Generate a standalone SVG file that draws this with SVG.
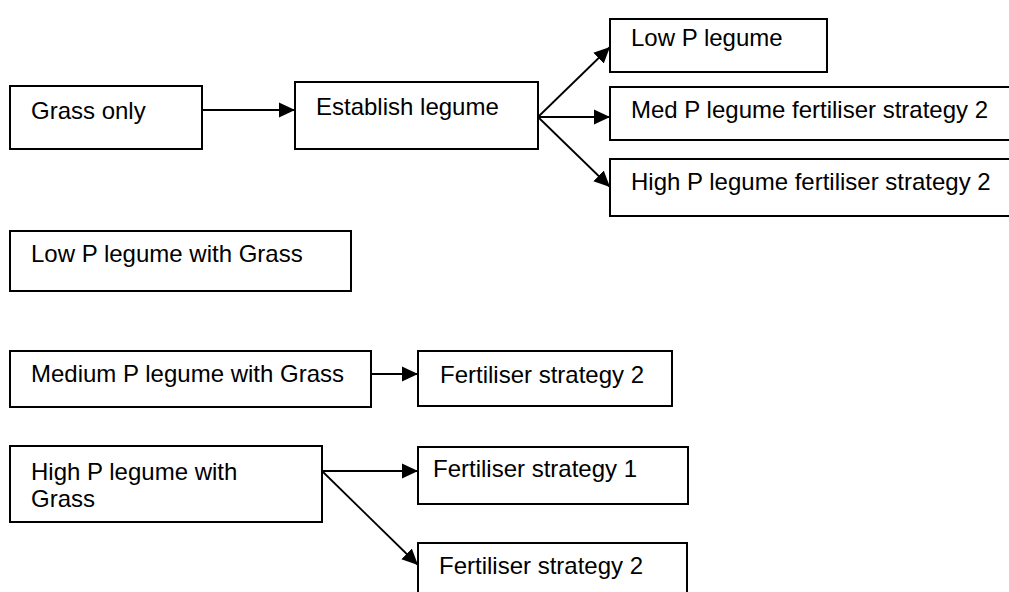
<svg xmlns="http://www.w3.org/2000/svg" width="1009" height="592" viewBox="0 0 1009 592">
<style>
.box{fill:#fff;stroke:#000;stroke-width:2}
.t{font-family:"Liberation Sans",Arial,sans-serif;font-size:24px;fill:#000}
.c{fill:none;stroke:#000;stroke-width:1.8}
</style>
<defs>
<marker id="ah" markerUnits="userSpaceOnUse" markerWidth="16" markerHeight="16" viewBox="0 0 15 14" refX="15" refY="7" orient="auto">
<path d="M0,0 L15,7 L0,14 z" fill="#000"/>
</marker>
</defs>
<rect width="1009" height="592" fill="#fff"/>
<g id="connectors">
<line class="c" x1="202" y1="110" x2="295" y2="110" marker-end="url(#ah)"/>
<line class="c" x1="538" y1="117" x2="610" y2="47" marker-end="url(#ah)"/>
<line class="c" x1="538" y1="117" x2="610" y2="117" marker-end="url(#ah)"/>
<line class="c" x1="538" y1="117" x2="610" y2="187" marker-end="url(#ah)"/>
<line class="c" x1="371" y1="374" x2="418" y2="374" marker-end="url(#ah)"/>
<line class="c" x1="322" y1="471" x2="418" y2="471" marker-end="url(#ah)"/>
<line class="c" x1="322" y1="471" x2="418" y2="565" marker-end="url(#ah)"/>
</g>
<g id="grass-only"><rect class="box" x="10" y="86" width="192" height="63"/><text class="t" x="31" y="119">Grass only</text></g>
<g id="establish-legume"><rect class="box" x="295" y="82" width="243" height="67"/><text class="t" x="316" y="115">Establish legume</text></g>
<g id="low-p-legume"><rect class="box" x="610" y="19" width="217" height="53"/><text class="t" x="631" y="46">Low P legume</text></g>
<g id="med-p-legume"><rect class="box" x="610" y="87" width="410" height="53"/><text class="t" x="631" y="118">Med P legume fertiliser strategy 2</text></g>
<g id="high-p-legume"><rect class="box" x="610" y="159" width="410" height="57"/><text class="t" x="631" y="190">High P legume fertiliser strategy 2</text></g>
<g id="low-p-grass"><rect class="box" x="10" y="231" width="341" height="60"/><text class="t" x="31" y="262">Low P legume with Grass</text></g>
<g id="medium-p-grass"><rect class="box" x="10" y="351" width="361" height="56"/><text class="t" x="31" y="382">Medium P legume with Grass</text></g>
<g id="fert-2-mid"><rect class="box" x="418" y="351" width="254" height="55"/><text class="t" x="440" y="383">Fertiliser strategy 2</text></g>
<g id="high-p-grass"><rect class="box" x="10" y="446" width="312" height="76"/><text class="t" x="31" y="480">High P legume with</text><text class="t" x="31" y="507">Grass</text></g>
<g id="fert-1"><rect class="box" x="418" y="447" width="270" height="57"/><text class="t" x="433" y="477">Fertiliser strategy 1</text></g>
<g id="fert-2-low"><rect class="box" x="418" y="543" width="269" height="60"/><text class="t" x="439" y="574">Fertiliser strategy 2</text></g>
</svg>
